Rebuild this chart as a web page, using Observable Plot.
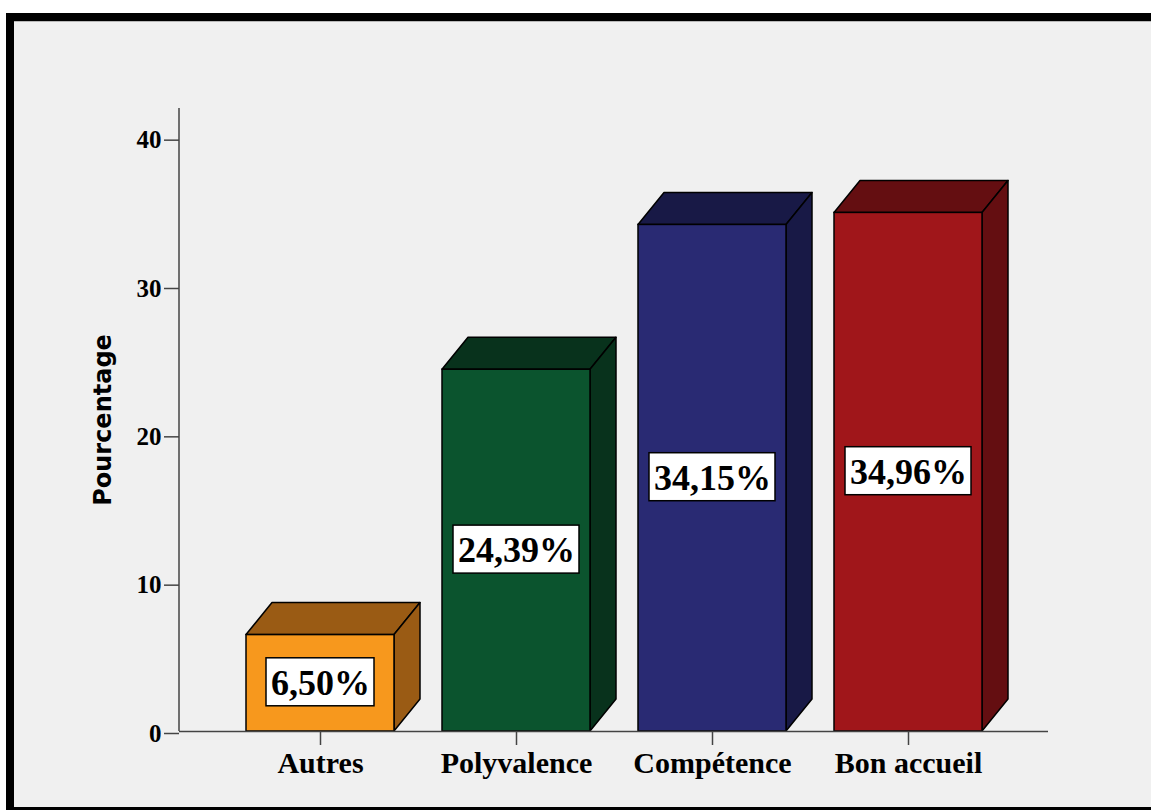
<!DOCTYPE html>
<html><head><meta charset="utf-8">
<script src="https://cdn.jsdelivr.net/npm/d3@7"></script>
<script src="https://cdn.jsdelivr.net/npm/@observablehq/plot@0.6"></script>
<style>
html,body{margin:0;padding:0;background:#fff;overflow:hidden;width:1151px;height:810px;}
#frame{position:absolute;left:6px;top:13px;width:1200px;height:786px;border-left:8px solid #000;border-top:8px solid #000;border-bottom:8px solid #000;background:#f0f0f0;box-shadow:inset 0 1px 0 #b8b8b8;}
#chart{position:absolute;left:0;top:0;}
</style></head><body><div id="frame"><div id="chart"></div></div>
<script>
// ---- data ----
const categories = ["Autres", "Polyvalence", "Compétence", "Bon accueil"];
const values = [6.50, 24.39, 34.15, 34.96];
const valueLabels = ["6,50%", "24,39%", "34,15%", "34,96%"];
const yTicks = [0, 10, 20, 30, 40];

// ---- styles ----
const FRONT = ["#f7981d", "#0b542e", "#292a73", "#a0161a"];
const SHADE = ["#9a5b14", "#08321c", "#181946", "#640e11"];
const DX = 26, DY = 32; // pseudo-3D depth in px
const SERIF = "'Liberation Serif', 'Times New Roman', serif";

const data = categories.map((c, i) => ({category: c, value: values[i], label: valueLabels[i]}));
const shadeOf = d3.scaleOrdinal(categories, SHADE);

function bandwidthOf(sx) {
  return typeof sx.bandwidth === "function" ? sx.bandwidth() : sx.bandwidth;
}

// top and side faces of the 3D bars
function cubeFaces(index, scales, values, dims) {
  const sx = scales.x, sy = scales.y, bw = bandwidthOf(sx);
  const g = d3.create("svg:g").attr("stroke", "#000").attr("stroke-width", 1.5).attr("stroke-linejoin", "round");
  for (const d of data) {
    const x0 = sx(d.category), x1 = x0 + bw, yt = sy(d.value), yb = sy(0);
    const c = shadeOf(d.category);
    g.append("path").attr("fill", c)
      .attr("d", `M${x0},${yt}L${x0 + DX},${yt - DY}L${x1 + DX},${yt - DY}L${x1},${yt}Z`);
    g.append("path").attr("fill", c)
      .attr("d", `M${x1},${yt}L${x1 + DX},${yt - DY}L${x1 + DX},${yb - DY}L${x1},${yb}Z`);
  }
  return g.node();
}

// white label boxes
const ctx = document.createElement("canvas").getContext("2d");
ctx.font = `bold 36px ${SERIF}`;
function labelBoxes(index, scales) {
  const sx = scales.x, sy = scales.y, bw = bandwidthOf(sx);
  const g = d3.create("svg:g").attr("fill", "#fff").attr("stroke", "#000").attr("stroke-width", 1.5);
  for (const d of data) {
    const w = ctx.measureText(d.label).width + 9, h = 48;
    const cx = sx(d.category) + bw / 2, cy = sy(d.value / 2);
    g.append("rect").attr("x", cx - w / 2).attr("y", cy - h / 2 - 1).attr("width", w).attr("height", h);
  }
  return g.node();
}

// vertical axis line
function yAxisLine(index, scales, values, dims) {
  return d3.create("svg:line")
    .attr("x1", dims.marginLeft).attr("x2", dims.marginLeft)
    .attr("y1", dims.marginTop).attr("y2", dims.height - dims.marginBottom)
    .attr("stroke", "#444").attr("stroke-width", 1.5).node();
}

const chart = Plot.plot({
  width: 1137, height: 786,
  marginLeft: 165, marginRight: 103, marginTop: 87, marginBottom: 76,
  style: {background: "transparent", color: "#000", overflow: "visible"},
  x: {domain: categories, paddingInner: 0.245, paddingOuter: 0.339, label: null},
  y: {domain: [0, 42], label: null},
  color: {domain: categories, range: FRONT},
  marks: [
    cubeFaces,
    Plot.barY(data, {x: "category", y: "value", fill: "category", stroke: "#000", strokeWidth: 1.5}),
    Plot.ruleY([0], {stroke: "#444", strokeWidth: 1.5}),
    yAxisLine,
    Plot.axisX({tickSize: 14, tickPadding: 6, fontSize: 30, fontFamily: SERIF, fontWeight: "bold",
      stroke: "#444", strokeWidth: 1.5, label: null}),
    Plot.axisY(yTicks, {tickSize: 15, tickPadding: 3, fontSize: 25, fontFamily: SERIF, fontWeight: "bold",
      stroke: "#444", strokeWidth: 1.5, label: null, dy: 2}),
    Plot.text(["Pourcentage"], {frameAnchor: "left", dx: -76, rotate: -90, fontSize: 24,
      fontFamily: "'DejaVu Sans', sans-serif", fontWeight: "bold", textAnchor: "middle", lineAnchor: "middle"}),
    labelBoxes,
    Plot.text(data, {x: "category", y: d => d.value / 2, text: "label", fontSize: 36, fontFamily: SERIF,
      fontWeight: "bold", lineAnchor: "middle", fill: "#000"})
  ]
});
document.getElementById("chart").appendChild(chart);
</script></body></html>
